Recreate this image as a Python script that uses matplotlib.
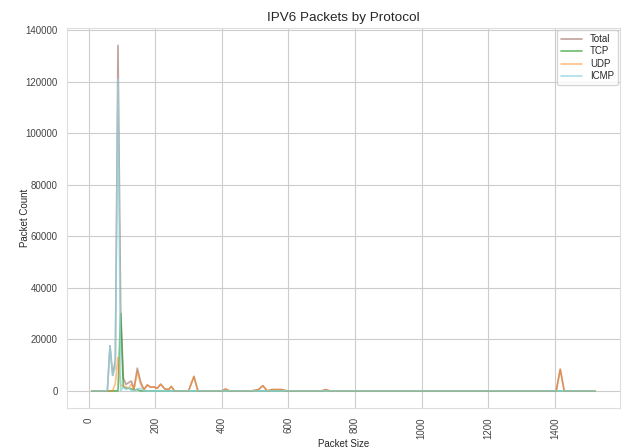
import matplotlib
matplotlib.use('Agg')
import matplotlib.pyplot as plt
import seaborn as sns

sns.set_style('whitegrid')
plt.rcParams['font.family'] = ['Liberation Sans', 'DejaVu Sans']

# packet size points and counts per protocol
sizes = [10, 56, 64, 72, 80, 88, 96, 104, 112, 120, 128, 136, 146, 156, 166,
         176, 186, 196, 206, 216, 228, 240, 248, 258, 300, 316, 328, 400, 411,
         422, 490, 510, 523, 536, 550, 580, 595, 700, 712, 724, 1404, 1416,
         1428, 1520]
total = [0, 0, 17500, 6000, 12000, 134000, 32000, 5000, 2500, 3200, 3800, 800,
         8800, 3500, 500, 2300, 1400, 1500, 1000, 2600, 800, 500, 1700, 0, 0,
         5600, 0, 0, 700, 0, 0, 500, 2000, 0, 500, 500, 0, 0, 500, 0, 0, 8400,
         0, 0]
tcp = [0, 0, 0, 0, 0, 0, 30000, 1500, 1000, 1000, 800, 300,
       500, 0, 0, 0, 0, 0, 0, 0, 0, 0, 0, 0, 0,
       0, 0, 0, 0, 0, 0, 0, 0, 0, 0, 0, 0, 0, 0, 0, 0, 0,
       0, 0]
udp = [0, 0, 0, 0, 3000, 13000, 2000, 2000, 1500, 1000, 2600, 500,
       7500, 2500, 500, 2300, 1400, 1500, 1000, 2600, 800, 500, 1700, 0, 0,
       5600, 0, 0, 700, 0, 0, 500, 2000, 0, 500, 500, 0, 0, 500, 0, 0, 8400,
       0, 0]
icmp = [0, 0, 17500, 6000, 9000, 121000, 0, 1500, 500, 1200, 0, 0,
        800, 1000, 0, 0, 0, 0, 0, 0, 0, 0, 0, 0, 0,
        0, 0, 0, 0, 0, 0, 0, 0, 0, 0, 0, 0, 0, 0, 0, 0, 0,
        0, 0]

fig, ax = plt.subplots(figsize=(6.25, 4.48), dpi=100)
fig.subplots_adjust(left=0.107, right=0.992, top=0.937, bottom=0.089)

ax.plot(sizes, total, color='tab:brown', alpha=0.55, lw=1.2, label='Total')
ax.plot(sizes, tcp, color='tab:green', alpha=0.7, lw=1.2, label='TCP')
ax.plot(sizes, udp, color='tab:orange', alpha=0.5, lw=1.2, label='UDP')
ax.plot(sizes, icmp, color='#8fd3e0', alpha=0.75, lw=1.2, label='ICMP')

ax.set_title('IPV6 Packets by Protocol', fontsize=9.7, pad=5)
ax.set_xlabel('Packet Size', fontsize=7, labelpad=0)
ax.set_ylabel('Packet Count', fontsize=7, labelpad=-3)
ax.tick_params(axis='both', labelsize=7, colors='#444444', pad=3)
ax.tick_params(axis='x', rotation=90)
for s in ax.spines.values():
    s.set_color('#dddddd')
ax.legend(loc='upper right', fontsize=7, borderaxespad=0.2, handlelength=2.2,
          labelspacing=0.25)

fig.savefig('out.png')
